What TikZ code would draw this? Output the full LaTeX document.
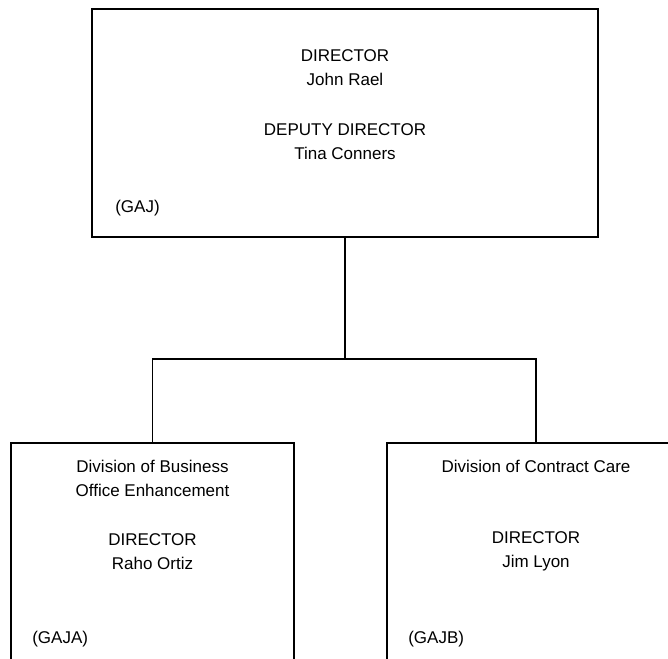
\documentclass[tikz,border=0pt]{standalone}
\usepackage{fontspec}
\setmainfont{Liberation Sans}
\usetikzlibrary{calc,positioning}

\tikzset{
  unit/.style={draw, line width=1.4pt, inner sep=0pt},
  txt/.style={align=center, inner sep=0pt, font=\fontsize{12.75}{18}\selectfont},
  code/.style={anchor=west, inner sep=0pt, font=\fontsize{12.75}{18}\selectfont},
  link/.style={line width=1.4pt}
}

\begin{document}
\begin{tikzpicture}[x=0.75pt,y=-0.75pt]
  \useasboundingbox (0,0) rectangle (668,658);
  \clip (0,0) rectangle (668,658);
  % boxes
  \node[unit, minimum width=379.5pt, minimum height=171pt] (dir) at (345,123) {};
  \node[unit, minimum width=212.25pt, minimum height=225pt] (boe) at (152.5,593) {};
  \node[unit, minimum width=223.5pt, minimum height=225pt] (cc) at (536,593) {};
  % texts
  \node[txt] (dirname) at ($(dir.north)+(0,60)$) {DIRECTOR\\John Rael};
  \node[txt] (depname) at ($(dir.north)+(0,134)$) {DEPUTY DIRECTOR\\Tina Conners};
  \node[code] (dircode) at ($(dir.north west)+(24,200)$) {(GAJ)};
  \node[txt] (boetitle) at ($(boe.north)+(0,36.5)$) {Division of Business\\Office Enhancement};
  \node[txt] (boename) at ($(boe.north)+(0,109.5)$) {DIRECTOR\\Raho Ortiz};
  \node[code] (boecode) at ($(boe.north west)+(22,197)$) {(GAJA)};
  \node[txt] (cctitle) at ($(cc.north)+(0,24)$) {Division of Contract Care};
  \node[txt] (ccname) at ($(cc.north)+(0,109.5)$) {DIRECTOR\\Jim Lyon};
  \node[code] (cccode) at ($(cc.north west)+(22,197)$) {(GAJB)};
  % connectors
  \coordinate (fork) at (345,359);
  \draw[link] (dir.south) -- (fork);
  \draw[link] (boe.north) |- (fork) -| (cc.north);
\end{tikzpicture}
\end{document}
